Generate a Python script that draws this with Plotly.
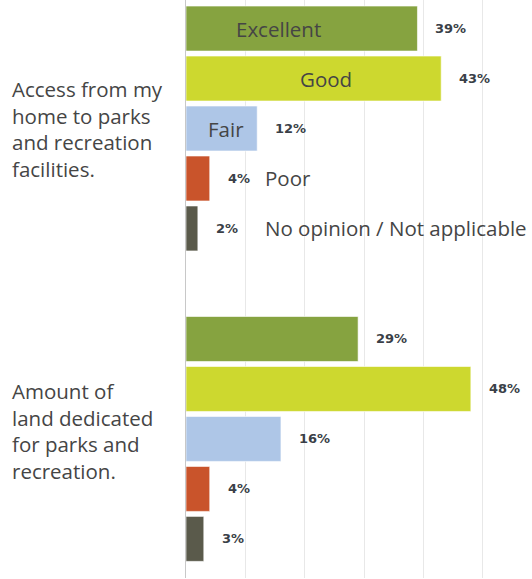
import plotly.graph_objects as go

categories = ["Access from my<br>home to parks<br>and recreation<br>facilities.",
              "Amount of<br>land dedicated<br>for parks and<br>recreation."]
series_names = ["Excellent", "Good", "Fair", "Poor", "No opinion / Not applicable"]
excellent = [39, 29]
good = [43, 48]
fair = [12, 16]
poor = [4, 4]
no_opinion = [2, 3]
colors = ["#86a340", "#cdd82f", "#aec6e7", "#c9542b", "#5a5a4b"]

all_values = [excellent, good, fair, poor, no_opinion]
ypos = [0, 1]

fig = go.Figure()
for name, vals, col in zip(series_names, all_values, colors):
    fig.add_trace(go.Bar(
        y=ypos, x=vals, name=name, orientation="h",
        marker=dict(color=col, line=dict(color="rgba(255,255,255,0.6)", width=1)),
        showlegend=False, hoverinfo="skip",
    ))

annotations = []
# category labels on the left
label_shift = [0, 8]
for yp, cat, sh in zip(ypos, categories, label_shift):
    annotations.append(dict(
        x=-0.509, xref="paper", y=yp, yref="y", yshift=sh,
        text=cat, showarrow=False, xanchor="left", yanchor="middle", align="left",
        font=dict(family="Open Sans", size=20.5, color="#454545"),
    ))

# value labels
n = len(series_names)
group_w = 0.805
slot = group_w / n
for i, vals in enumerate(all_values):
    for yp, v in zip(ypos, vals):
        yc = yp - group_w / 2 + slot * (i + 0.5)
        annotations.append(dict(
            x=v, y=yc, xref="x", yref="y", text=f"{v}%", showarrow=False,
            xanchor="left", yanchor="middle", xshift=16,
            font=dict(family="DejaVu Sans", size=13, color="#3a3f48", weight="bold"),
        ))

# series name labels (legend-like) for the first group
name_pos = [(15.6, "center"), (23.6, "center"), (6.8, "center"), (12.9, "left"), (12.9, "left")]
for i, (nm, (xp, anc)) in enumerate(zip(series_names, name_pos)):
    yc = 0 - group_w / 2 + slot * (i + 0.5)
    annotations.append(dict(
        x=xp, y=yc, xref="x", yref="y", text=nm, showarrow=False,
        xanchor=anc, yanchor="middle",
        font=dict(family="Open Sans", size=20.5, color="#454545"),
    ))

fig.update_layout(
    width=532, height=579,
    margin=dict(l=186, r=0, t=0, b=1),
    paper_bgcolor="white", plot_bgcolor="white",
    barmode="group", bargap=0.195, bargroupgap=0.1,
    annotations=annotations,
    xaxis=dict(range=[0, 58.3], tickvals=[10, 20, 30, 40, 50], showticklabels=False,
               showgrid=True, gridcolor="#e8e8e8", gridwidth=1, zeroline=False,
               showline=False, fixedrange=True),
    yaxis=dict(range=[1.448, -0.414], showticklabels=False, showgrid=False,
               zeroline=False, showline=True, linecolor="#c8c8c8", linewidth=1,
               fixedrange=True),
)

fig.write_html("out.html", config={"displayModeBar": False},
               post_script="document.body.style.margin='0';")
